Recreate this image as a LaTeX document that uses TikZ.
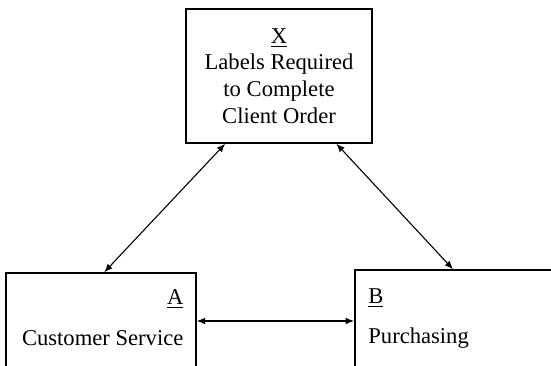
\documentclass[tikz,border=0pt]{standalone}
\usepackage{fontspec}
\setmainfont{Liberation Serif}
\usepackage{tikz}
\usetikzlibrary{arrows.meta,positioning,calc}
\tikzset{
  >={Latex[length=4.2pt,width=3.4pt]},
  block/.style={draw, line width=0.75pt, rectangle, inner sep=0pt, align=center},
  tag/.style={inner sep=0pt, font={\fontsize{11.3}{13.3}\selectfont}},
  conn/.style={<->, line width=0.55pt},
}

\begin{document}
\begin{tikzpicture}[x=0.5pt, y=-0.5pt]
    \clip (0,0) rectangle (551,365);

    % boxes
    \node[block, tag, minimum width=93pt, minimum height=67pt] (X) at (279,76)
      {\underline{X}\\Labels Required\\to Complete\\Client Order};
    \node[block, minimum width=95pt, minimum height=48pt] (A) at (101,321) {};
    \node[block, minimum width=112pt, minimum height=51pt, anchor=west] (B) at (354,321) {};

    % box texts
    \node[tag, anchor=base east] (Atag)  at ($(A.north east)+(-13,32)$) {\underline{A}};
    \node[tag, anchor=base east] (Aname) at ($(A.north east)+(-13,73)$) {Customer Service};
    \node[tag, anchor=base west] (Btag)  at ($(B.north west)+(14,34)$)  {\underline{B}};
    \node[tag, anchor=base west] (Bname) at ($(B.north west)+(14,74)$)  {Purchasing};

    % arrows
    \draw[conn] ($(X.south west)!0.213!(X.south east)$) -- ($(A.north west)+(99,0)$);
    \draw[conn] ($(X.south west)!0.806!(X.south east)$) -- ($(B.north west)+(99,0)$);
    \draw[conn] (A.east) -- (B.west);
  \end{tikzpicture}
\end{document}
